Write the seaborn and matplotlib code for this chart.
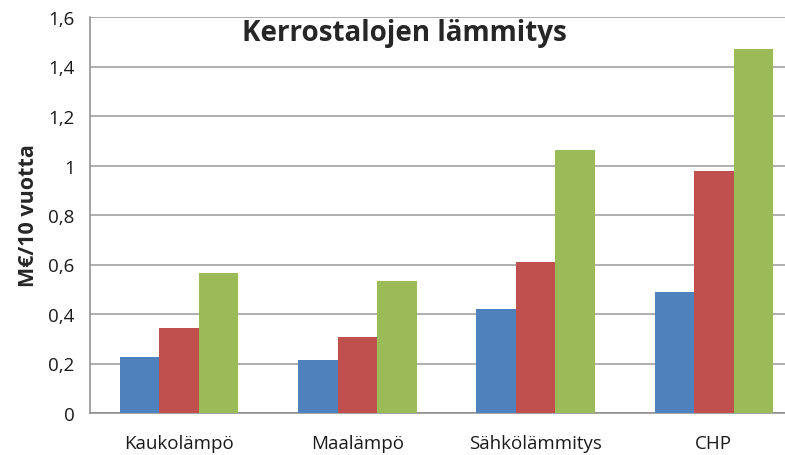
import matplotlib
matplotlib.use("Agg")
import matplotlib.pyplot as plt
import matplotlib.ticker as mticker
import pandas as pd
import seaborn as sns

# Arvot luettu kuvasta (M€/10 vuotta)
kategoriat = ["Kaukolämpö", "Maalämpö", "Sähkölämmitys", "CHP"]
sarjat = ["Sarja 1", "Sarja 2", "Sarja 3"]
sarja1 = [0.225, 0.214, 0.419, 0.488]
sarja2 = [0.343, 0.306, 0.611, 0.979]
sarja3 = [0.567, 0.535, 1.064, 1.469]
varit = ["#4F81BD", "#C0504D", "#9BBB59"]

df = pd.DataFrame({
    "kategoria": kategoriat * 3,
    "sarja": [s for s in sarjat for _ in kategoriat],
    "arvo": sarja1 + sarja2 + sarja3,
})

sns.set_style("white")
plt.rcParams["font.family"] = ["Open Sans", "DejaVu Sans"]

fig = plt.figure(figsize=(7.85, 4.56), dpi=100)
ax = fig.add_axes([90 / 785, 42 / 456, 713 / 785, 396 / 456])

sns.barplot(data=df, x="kategoria", y="arvo", hue="sarja", palette=varit,
            width=0.666, gap=0, legend=False, saturation=1, linewidth=0,
            ax=ax, zorder=3)

ax.set_xlim(-0.5, 3.5)
ax.set_ylim(0, 1.6)
ax.set_yticks([0, 0.2, 0.4, 0.6, 0.8, 1.0, 1.2, 1.4, 1.6])
ax.yaxis.set_major_formatter(
    mticker.FuncFormatter(lambda v, p: f"{v:g}".replace(".", ",")))
ax.grid(axis="y", color="#9a9a9a", linewidth=1.1, zorder=0)
ax.set_axisbelow(True)

for s in ["top", "right"]:
    ax.spines[s].set_visible(False)
for s in ["left", "bottom"]:
    ax.spines[s].set_color("#8a8a8a")
    ax.spines[s].set_linewidth(1.1)

ax.tick_params(axis="y", length=7, width=1.1, color="#8a8a8a",
               labelsize=13.5, pad=4, labelcolor="#1a1a1a")
ax.tick_params(axis="x", which="major", length=0, labelsize=13.5, pad=15,
               labelcolor="#1a1a1a")
ax.set_xticks([-0.5, 0.5, 1.5, 2.5], minor=True)
ax.tick_params(axis="x", which="minor", length=7, width=1.1, color="#8a8a8a")

ax.set_xlabel("")
ax.set_ylabel("M€/10 vuotta", fontsize=15.5, fontweight="bold", labelpad=7)

fig.text(404 / 785, 1 - 33 / 456, "Kerrostalojen lämmitys", fontsize=20,
         fontweight="bold", ha="center", va="center")

fig.savefig("out.png", dpi=100)
